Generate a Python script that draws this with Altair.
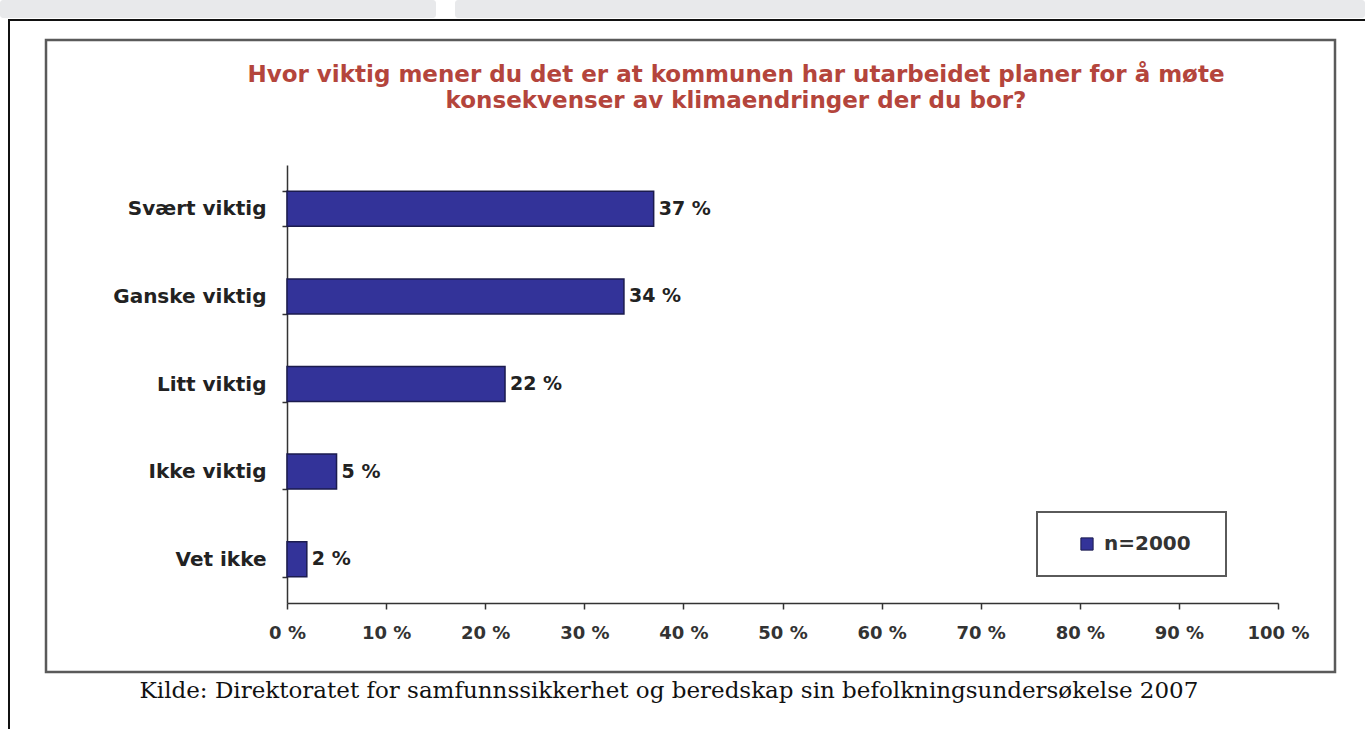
import altair as alt
import pandas as pd

# ---- data ----
categories = ["Svært viktig", "Ganske viktig", "Litt viktig", "Ikke viktig", "Vet ikke"]
values = [37, 34, 22, 5, 2]
series_name = "n=2000"
x_ticks = [0, 10, 20, 30, 40, 50, 60, 70, 80, 90, 100]
title_lines = [
    "Hvor viktig mener du det er at kommunen har utarbeidet planer for å møte",
    "konsekvenser av klimaendringer der du bor?",
]
caption = "Kilde: Direktoratet for samfunnssikkerhet og beredskap sin befolkningsundersøkelse 2007"

df = pd.DataFrame({
    "kategori": categories,
    "andel": values,
    "serie": [series_name] * len(categories),
    "etikett": [f"{v} %" for v in values],
})
one = pd.DataFrame({"k": [0]})

SANS = "DejaVu Sans"
SERIF = "DejaVu Serif"
BAR = "#333399"
TITLE_COLOR = "#b4453c"

# plot area: left 287, top 165, width 991, height 438 within 1365x729
OX, OY = 287, 165
W, H = 991, 438


def px(v):
    return v - OX


def py(v):
    return v - OY


x_enc = alt.X(
    "andel:Q",
    scale=alt.Scale(domain=[0, 100], nice=False),
    axis=alt.Axis(
        values=x_ticks, title=None, grid=False,
        labelExpr="datum.value + ' %'", labelFlush=False, labelOverlap=False,
        labelFont=SANS, labelFontWeight="bold", labelFontSize=18, labelColor="#333333",
        tickSize=6, tickColor="#333333", domainColor="#333333", domainWidth=1.5, tickWidth=1.5,
        labelPadding=15,
    ),
)
y_enc = alt.Y(
    "kategori:N",
    sort=categories,
    scale=alt.Scale(paddingInner=0.6, paddingOuter=0.3),
    axis=alt.Axis(
        title=None, tickBand="extent", tickSize=5, tickColor="#333333", tickWidth=1.5,
        domainColor="#333333", domainWidth=1.5,
        labelFont=SANS, labelFontWeight="bold", labelFontSize=20, labelColor="#222222",
        labelPadding=16,
    ),
)

bars = alt.Chart(df).mark_bar(stroke="#1b1b4e", strokeWidth=1.5).encode(
    x=x_enc,
    y=y_enc,
    color=alt.Color(
        "serie:N",
        scale=alt.Scale(domain=[series_name], range=[BAR]),
        legend=alt.Legend(
            title=None, orient="none", legendX=px(1077), legendY=py(534), padding=0,
            symbolType="square", symbolSize=150, symbolStrokeColor="#1b1b4e", symbolStrokeWidth=1,
            labelFont=SANS, labelFontWeight="bold", labelFontSize=20, labelColor="#333333",
            labelOffset=7,
        ),
    ),
)

bar_labels = alt.Chart(df).mark_text(
    align="left", baseline="middle", dx=5, font=SANS, fontWeight="bold", fontSize=19, color="#222222"
).encode(
    x=alt.X("andel:Q"),
    y=alt.Y("kategori:N", sort=categories),
    text="etikett:N",
)

# ---- decorations (page frame, boxes) ----
strip1 = alt.Chart(one).mark_rect(color="#e8e9eb", cornerRadius=3).encode(
    x=alt.value(px(0)), x2=alt.value(px(436)), y=alt.value(py(0)), y2=alt.value(py(18)))
strip2 = alt.Chart(one).mark_rect(color="#e8e9eb", cornerRadius=3).encode(
    x=alt.value(px(455)), x2=alt.value(px(1365)), y=alt.value(py(0)), y2=alt.value(py(18)))
outer_top = alt.Chart(one).mark_rule(color="#111111", strokeWidth=2).encode(
    x=alt.value(px(8)), x2=alt.value(px(1365)), y=alt.value(py(20)), y2=alt.value(py(20)))
outer_left = alt.Chart(one).mark_rule(color="#111111", strokeWidth=2).encode(
    x=alt.value(px(9)), x2=alt.value(px(9)), y=alt.value(py(20)), y2=alt.value(py(729)))
inner_box = alt.Chart(one).mark_rect(fill="white", fillOpacity=0, stroke="#5a5a5a", strokeWidth=2.5).encode(
    x=alt.value(px(46)), x2=alt.value(px(1335)), y=alt.value(py(40)), y2=alt.value(py(672)))
legend_box = alt.Chart(one).mark_rect(fill="white", stroke="#5a5a5a", strokeWidth=2).encode(
    x=alt.value(px(1037)), x2=alt.value(px(1226)), y=alt.value(py(512)), y2=alt.value(py(576)))

title1 = alt.Chart(one).mark_text(
    align="center", baseline="middle", font=SANS, fontWeight="bold", fontSize=23, color=TITLE_COLOR,
    text=title_lines[0]).encode(x=alt.value(px(736)), y=alt.value(py(75)))
title2 = alt.Chart(one).mark_text(
    align="center", baseline="middle", font=SANS, fontWeight="bold", fontSize=23, color=TITLE_COLOR,
    text=title_lines[1]).encode(x=alt.value(px(736)), y=alt.value(py(101)))
cap = alt.Chart(one).mark_text(
    align="center", baseline="middle", font=SERIF, fontSize=23, color="#111111",
    text=caption).encode(x=alt.value(px(669)), y=alt.value(py(691)))

chart = alt.layer(
    strip1, strip2, outer_top, outer_left, inner_box, legend_box,
    bars, bar_labels, title1, title2, cap,
).properties(
    width=W, height=H,
    autosize=alt.AutoSizeParams(type="none"),
    padding={"left": OX, "top": OY, "right": 1365 - OX - W, "bottom": 729 - OY - H},
    background="white",
).configure_view(stroke=None)

chart.save("out.html", embed_options={"renderer": "svg", "actions": False})
